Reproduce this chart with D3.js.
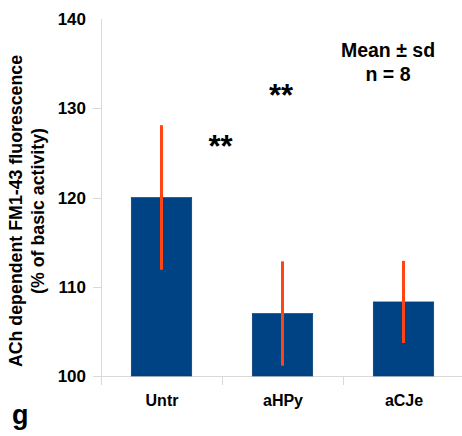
<!DOCTYPE html>
<html lang="en">
<head>
<meta charset="utf-8">
<title>FM1-43 fluorescence bar chart</title>
<script src="https://d3js.org/d3.v7.min.js"></script>
<style>
  body { margin: 0; background: #fff; }
  svg text { font-family: "Liberation Sans", Arial, sans-serif; font-weight: bold; fill: #000; }
  .axisLine { stroke: #d9d9d9; stroke-width: 1; shape-rendering: crispEdges; }
</style>
</head>
<body>
<script>
// data
var groups = ["Untr", "aHPy", "aCJe"];
var means = [120.0, 107.0, 108.3];
var sds = [8.1, 5.85, 4.6];
var yTicks = [100, 110, 120, 130, 140];
// stars: placed relative to a group centre, shift in band steps
var stars = [{ group: "aHPy", shift: -0.5, y: 124.5 }, { group: "aHPy", shift: 0, y: 130.3 }];

var width = 462, height = 436;
var plotL = 101, plotR = 464, plotT = 19, plotB = 376;

var svg = d3.select("body").append("svg")
    .attr("width", width)
    .attr("height", height);

var x = d3.scaleBand()
    .domain(groups)
    .range([plotL, plotR])
    .paddingInner(0.5)
    .paddingOuter(0.25);

var y = d3.scaleLinear()
    .domain([100, 140])
    .range([plotB, plotT]);

// y axis
svg.append("line").attr("class", "axisLine")
    .attr("x1", plotL + 0.5).attr("x2", plotL + 0.5)
    .attr("y1", y(140)).attr("y2", plotB + 9);

svg.selectAll(".ytick")
    .data(yTicks.filter(function(d) { return d < 140; }))
    .enter().append("line").attr("class", "axisLine")
    .attr("x1", plotL - 8).attr("x2", plotL)
    .attr("y1", function(d) { return Math.round(y(d)) + 0.5; })
    .attr("y2", function(d) { return Math.round(y(d)) + 0.5; });

svg.selectAll(".ylab")
    .data(yTicks)
    .enter().append("text")
    .attr("x", 86)
    .attr("y", function(d) { return y(d) + 6; })
    .attr("text-anchor", "end")
    .style("font-size", "17px")
    .text(function(d) { return d; });

// x axis
svg.append("line").attr("class", "axisLine")
    .attr("x1", plotL).attr("x2", width)
    .attr("y1", plotB + 0.5).attr("y2", plotB + 0.5);

var bounds = groups.map(function(g) { return x(g) - x.step() * x.paddingInner() / 2; });
bounds.push(plotR);
svg.selectAll(".xtick")
    .data(bounds)
    .enter().append("line").attr("class", "axisLine")
    .attr("x1", function(d) { return Math.round(d) + 0.5; })
    .attr("x2", function(d) { return Math.round(d) + 0.5; })
    .attr("y1", plotB).attr("y2", plotB + 9);

svg.selectAll(".xlab")
    .data(groups)
    .enter().append("text")
    .attr("x", function(d) { return x(d) + x.bandwidth() / 2 + 0.5; })
    .attr("y", 406)
    .attr("text-anchor", "middle")
    .style("font-size", "16px")
    .text(function(d) { return d; });

// bars
svg.selectAll(".bar")
    .data(groups)
    .enter().append("rect")
    .attr("x", function(d) { return x(d); })
    .attr("y", function(d, i) { return y(means[i]); })
    .attr("width", x.bandwidth())
    .attr("height", function(d, i) { return y(100) - y(means[i]); })
    .attr("fill", "#004385")
    .attr("stroke", "#003a73")
    .attr("stroke-width", 0.6);

// error bars
svg.selectAll(".err")
    .data(groups)
    .enter().append("line")
    .attr("x1", function(d) { return x(d) + x.bandwidth() / 2; })
    .attr("x2", function(d) { return x(d) + x.bandwidth() / 2; })
    .attr("y1", function(d, i) { return y(means[i] + sds[i]); })
    .attr("y2", function(d, i) { return y(means[i] - sds[i]); })
    .attr("stroke", "#ff4516")
    .attr("stroke-width", 3);

// significance stars
svg.selectAll(".star")
    .data(stars)
    .enter().append("text")
    .attr("x", function(d) { return x(d.group) + x.bandwidth() / 2 + d.shift * x.step() - 1.5; })
    .attr("y", function(d) { return y(d.y); })
    .attr("text-anchor", "middle")
    .style("font-size", "31px")
    .text("**");

// legend text
svg.append("text")
    .attr("x", 388).attr("y", 57)
    .attr("text-anchor", "middle")
    .style("font-size", "19.5px")
    .text("Mean \u00b1 sd");
svg.append("text")
    .attr("x", 388).attr("y", 81)
    .attr("text-anchor", "middle")
    .style("font-size", "19.5px")
    .text("n = 8");

// y axis title
var title = svg.append("text")
    .attr("transform", "translate(22,211) rotate(-90)")
    .attr("text-anchor", "middle")
    .style("font-size", "17.8px");
title.append("tspan").attr("x", 0).attr("dy", 0).text("ACh dependent FM1-43 fluorescence");
title.append("tspan").attr("x", 0).attr("dy", 22).text("(% of basic activity)");

// panel letter
svg.append("text")
    .attr("x", 12).attr("y", 424)
    .style("font-size", "27px")
    .text("g");
</script>
</body>
</html>
